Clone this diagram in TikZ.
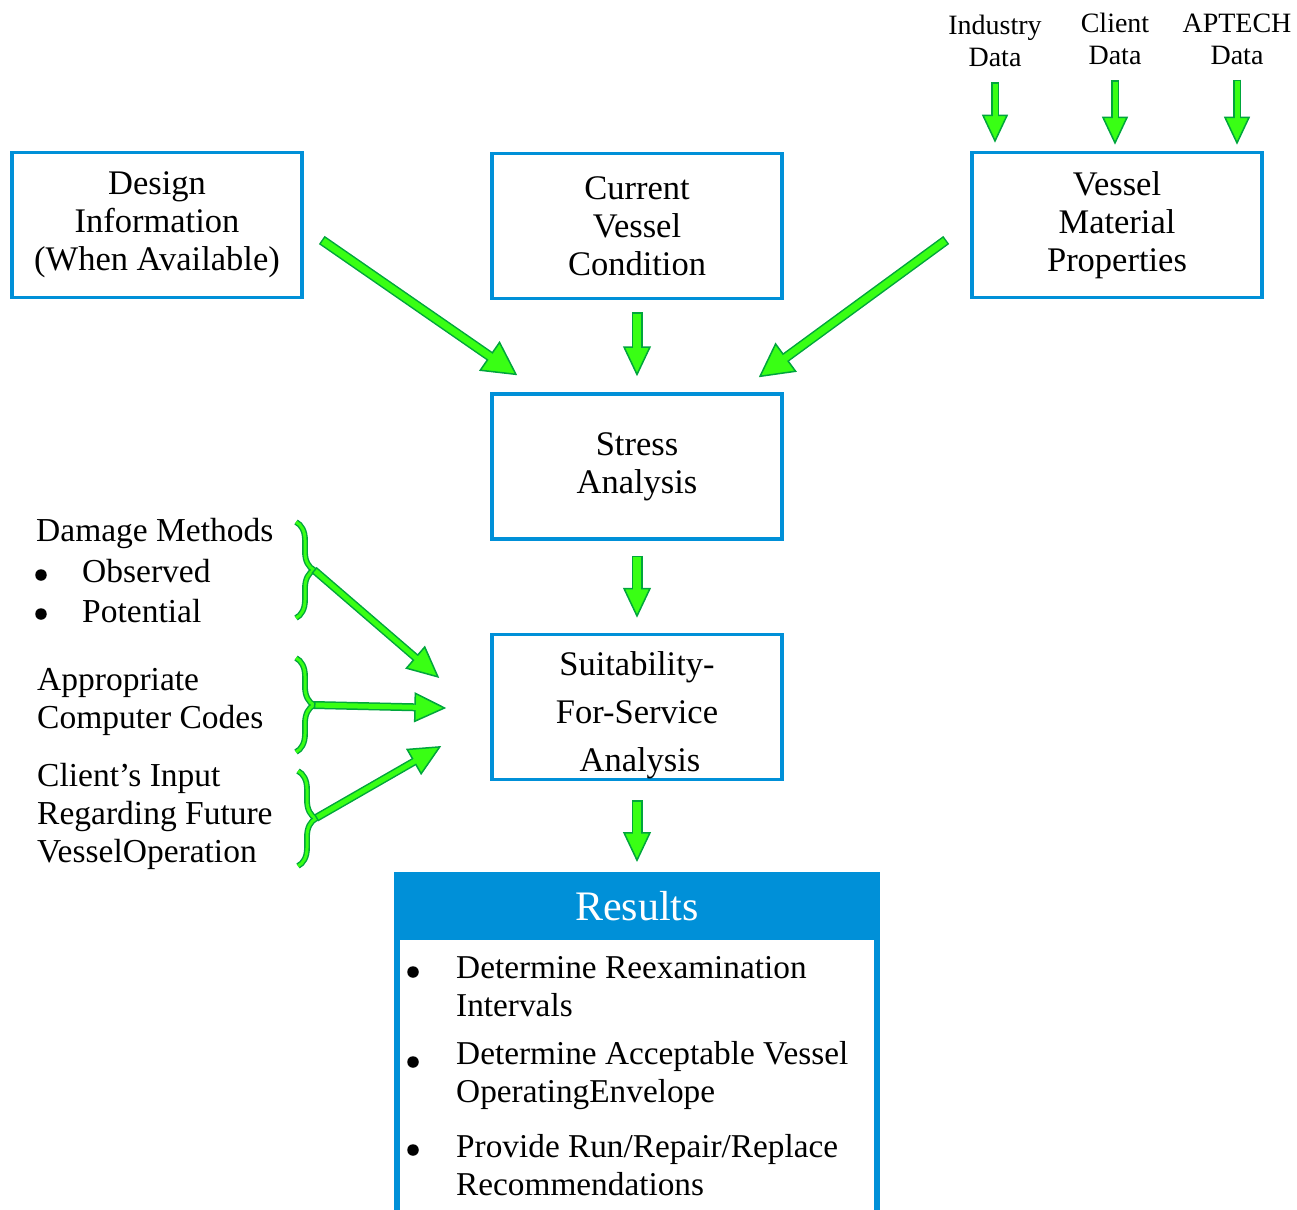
\documentclass[tikz,border=0pt]{standalone}
\usepackage{fontspec}
\setmainfont{Liberation Serif}
\usetikzlibrary{arrows.meta,decorations.pathreplacing,positioning}
\definecolor{boxblue}{RGB}{0,144,216}
\definecolor{arrowfill}{RGB}{57,255,20}
\definecolor{arrowedge}{RGB}{0,165,60}

\begin{document}
\begin{tikzpicture}
  [x=1pt, y=-1pt,
   every node/.style={inner sep=0pt},
   box/.style={draw=boxblue, line width=3.5pt, minimum width=290pt, minimum height=145pt,
     align=center, font=\fontsize{34.5}{38}\selectfont},
   label/.style={align=left, anchor=west, font=\fontsize{33.5}{38}\selectfont},
   item/.style={align=left, anchor=west, font=\fontsize{33.3}{38}\selectfont},
   source/.style={align=center, font=\fontsize{28}{32}\selectfont},
   dot/.style={circle, fill=black, minimum size=11.5pt},
   fat/.style n args={3}{draw=arrowedge, line width=#1,
     -{Triangle[length=#3, width=#2, fill=arrowfill, line width=1.5pt]},
     postaction={draw=arrowfill, line width=#1-3pt, -, shorten <=1.5pt, shorten >=#3-2pt}},
   curly/.style={draw=arrowedge, double=arrowfill, double distance=3pt, line width=1.4pt,
     decorate, decoration={brace, amplitude=18pt}}]
  \useasboundingbox (0,0) rectangle (1297,1209);

  % main boxes
  \node[box] (design) at (157,225) {Design\\Information\\(When Available)};
  \node[box] (current) at (637,226) {Current\\Vessel\\Condition};
  \node[box] (material) at (1117,225) {Vessel\\Material\\Properties};
  \node[box, below=92pt of current] (stress) {Stress\\Analysis};
  \node[box, below=92pt of stress] (ffs)
    {\rule{0pt}{40pt}Suitability-\\[10pt]For-Service\\[10pt]\hspace*{6pt}Analysis};

  % results
  \node[draw=boxblue, line width=6pt, minimum width=480pt, minimum height=360pt, anchor=north]
    (results) at (637,875) {};
  \node[fill=boxblue, minimum width=486pt, minimum height=68pt, anchor=north, text=white,
    font=\fontsize{42}{46}\selectfont] (reshead) at (637,872) {Results};
  \node[dot] (d1) at (413,972) {};
  \node[item] (item1) at (456,987) {Determine Reexamination\\Intervals};
  \node[dot] (d2) at (413,1062) {};
  \node[item] (item2) at (456,1076) {Determine Acceptable Vessel\\OperatingEnvelope};
  \node[dot] (d3) at (413,1150) {};
  \node[item] (item3) at (456,1165) {Provide Run/Repair/Replace\\Recommendations};

  % data sources
  \node[source] (industry) at (995,41) {Industry\\Data};
  \node[source] (client) at (1115,39) {Client\\Data};
  \node[source] (aptech) at (1237,39) {APTECH\\Data};

  % inputs on the left
  \node[label] (damage) at (36,533) {Damage Methods};
  \node[dot] (b1) at (41,575) {};
  \node[label] (observed) at (82,571) {Observed};
  \node[dot] (b2) at (41,614) {};
  \node[label] (potential) at (82,611) {Potential};
  \node[label] (codes) at (37,702) {Appropriate\\Computer Codes};
  \node[label] (clientin) at (37,816) {Client’s Input\\Regarding Future\\VesselOperation};

  \draw[curly] (296,522) -- (296,618);
  \draw[curly] (296,658) -- (296,752);
  \draw[curly] (298,771) -- (298,866);
  \coordinate (brace1) at (314,570);
  \coordinate (brace2) at (314,705);
  \coordinate (brace3) at (316,818);

  % arrows
  \draw[fat={8pt}{26pt}{28pt}] ([yshift=-15pt]industry.south) -- ([yshift=8pt]industry.south |- material.north);
  \draw[fat={8pt}{26pt}{28pt}] ([yshift=-15pt]client.south) -- ([yshift=6pt]client.south |- material.north);
  \draw[fat={8pt}{26pt}{28pt}] ([yshift=-15pt]aptech.south) -- ([yshift=6pt]aptech.south |- material.north);
  \draw[fat={10pt}{36pt}{34pt}] ([shift={(18,15)}]design.east) -- ([shift={(27,-17)}]stress.north west);
  \draw[fat={10pt}{36pt}{34pt}] ([shift={(-24,15)}]material.west) -- ([shift={(-25,-15)}]stress.north east);
  \draw[fat={11pt}{28pt}{30pt}] ([yshift=-12pt]current.south) -- ([yshift=16pt]stress.north);
  \draw[fat={11pt}{28pt}{30pt}] ([yshift=-15pt]stress.south) -- ([yshift=15pt]ffs.north);
  \draw[fat={11pt}{28pt}{30pt}] ([yshift=-19pt]ffs.south) -- ([yshift=10pt]reshead.north);
  \draw[fat={8pt}{30pt}{32pt}] (brace1) -- ([shift={(-51,-29)}]ffs.west);
  \draw[fat={8pt}{30pt}{32pt}] (brace2) -- ([shift={(-44,1)}]ffs.west);
  \draw[fat={8pt}{30pt}{32pt}] (brace3) -- ([shift={(-49,39)}]ffs.west);
\end{tikzpicture}
\end{document}
